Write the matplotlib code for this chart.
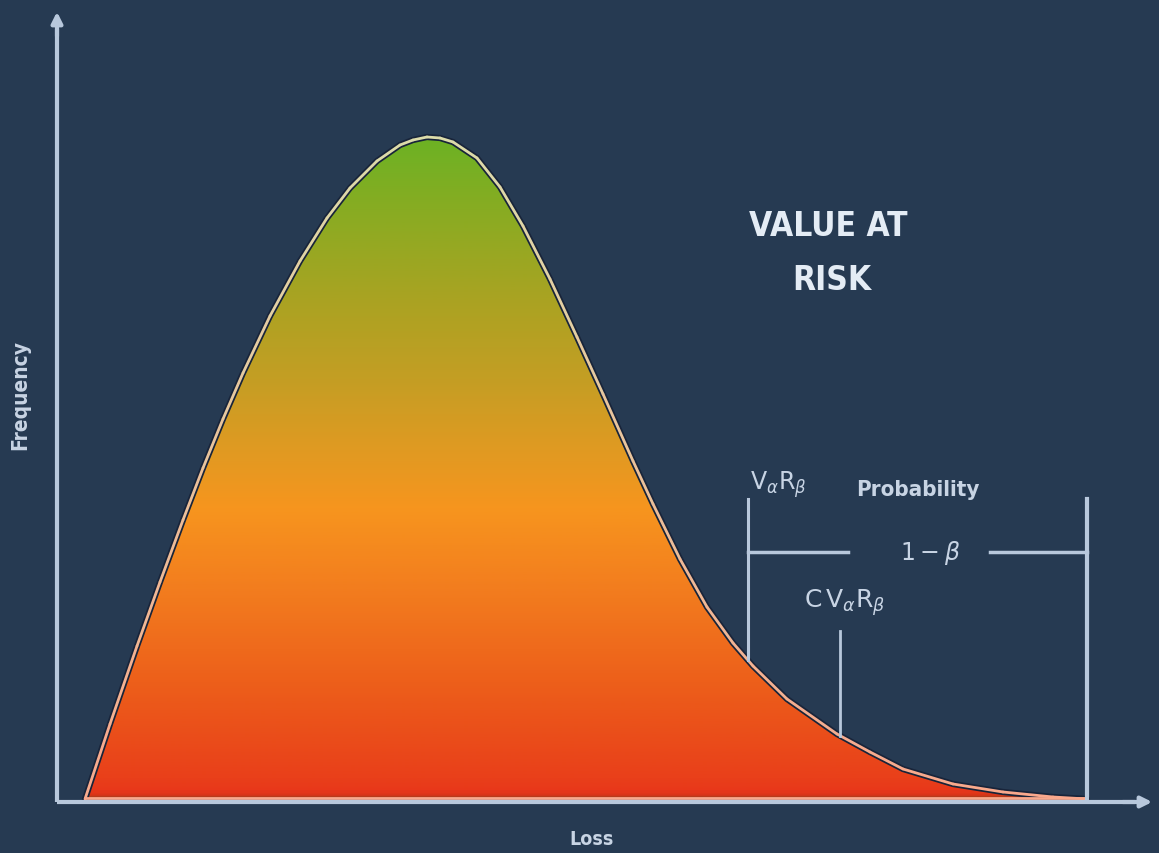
import numpy as np
import matplotlib
matplotlib.use("Agg")
import matplotlib.pyplot as plt
from matplotlib.colors import LinearSegmentedColormap, to_rgb
from matplotlib.patches import Polygon
from matplotlib.collections import LineCollection

# ---- data ----
loss = [85, 110, 137, 160, 183, 203, 223, 243, 270, 300, 327, 350, 377, 400, 413,
        427, 440, 453, 477, 500, 523, 550, 577, 603, 633, 653, 680, 707, 733, 753,
        787, 837, 870, 903, 953, 1003, 1053, 1087]
frequency = [0, 75, 153, 217, 279, 331, 380, 426, 483, 538, 581, 611, 638, 654, 659,
             662, 661, 657, 641, 612, 573, 520, 462, 405, 338, 295, 240, 192, 156, 133,
             100, 65, 47, 30, 15, 7, 2, 0]
var_x = 748
cvar_x = 840
tail_end_x = 1087

# gradient stops: (frequency level, colour)
grad_levels = [0, 3, 7, 20, 100, 200, 290, 350, 420, 500, 580, 662]
grad_colors = ["#b83a1a", "#e03418", "#e8381a", "#e9401a", "#ec5a1a", "#f27a1e",
               "#f7951e", "#e09a22", "#c49e24", "#aaa322", "#8cab22", "#6cb224"]

BG = "#263a52"
AXC = "#b8c8dc"
TXT = "#c8d4e4"

fig = plt.figure(figsize=(11.59, 8.54), dpi=100, facecolor=BG)
ax = fig.add_axes([0, 0, 1, 1])
ax.set_facecolor(BG)
ax.axis("off")

x = np.array(loss, float)
f = np.array(frequency, float)
fmax = f.max()

# gradient fill clipped to the curve
pos = [v / fmax for v in grad_levels]
cmap = LinearSegmentedColormap.from_list("g", list(zip(pos, grad_colors)))
grad = np.linspace(0, 1, 600).reshape(-1, 1)
im = ax.imshow(grad, cmap=cmap, origin="lower", aspect="auto",
               extent=[x.min(), x.max(), 0, fmax], zorder=2, interpolation="bilinear")
poly = Polygon(np.column_stack([x, f]), closed=True, transform=ax.transData,
               facecolor="none", edgecolor="none")
ax.add_patch(poly)
im.set_clip_path(poly)
ax.set_xlim(0, 1159)
ax.set_ylim(-54, 800)

# dark shadow outline + light edge
ax.plot(x, f, color="#18243a", lw=4.5, zorder=3, solid_capstyle="round",
        solid_joinstyle="round")
pts = np.column_stack([x, f]).reshape(-1, 1, 2)
segs = np.concatenate([pts[:-1], pts[1:]], axis=1)
top_c = np.array(to_rgb("#dcdcaa"))
bot_c = np.array(to_rgb("#f9a88c"))
mid_f = (f[:-1] + f[1:]) / 2 / fmax
cols = [tuple(bot_c + (top_c - bot_c) * t) for t in mid_f]
ax.add_collection(LineCollection(segs, colors=cols, linewidths=2.0, zorder=4,
                                 capstyle="round", joinstyle="round"))

# bottom strip
ax.plot([x.min(), x.max()], [1, 1], color="#f9a88c", lw=2, zorder=4)

# axes with arrows
ax.plot([57, 57], [-3, 770], color=AXC, lw=3, zorder=5, solid_capstyle="butt")
ax.plot([57, 1135], [-3, -3], color=AXC, lw=3, zorder=5, solid_capstyle="butt")
ax.annotate("", xy=(57, 790), xytext=(57, 760),
            arrowprops=dict(arrowstyle="-|>", color=AXC, lw=3, mutation_scale=16), zorder=6)
ax.annotate("", xy=(1155, -3), xytext=(1120, -3),
            arrowprops=dict(arrowstyle="-|>", color=AXC, lw=3, mutation_scale=16), zorder=6)

# VaR / CVaR / tail markers
var_f = np.interp(var_x, x, f)
cvar_f = np.interp(cvar_x, x, f)
ax.plot([var_x, var_x], [var_f, 300], color=AXC, lw=2.2, zorder=5)
ax.plot([cvar_x, cvar_x], [cvar_f, 168], color=AXC, lw=2.0, zorder=5)
ax.plot([tail_end_x, tail_end_x], [0, 300], color=AXC, lw=3, zorder=5)
ax.plot([var_x, 848], [247, 247], color=AXC, lw=2.5, zorder=5)
ax.plot([990, tail_end_x], [247, 247], color=AXC, lw=2.5, zorder=5)

# texts
cond = dict(family="DejaVu Sans", stretch="condensed", fontweight="bold")
ax.text(828, 800 - 226, "VALUE AT", color="#e4ecf5", fontsize=24, ha="center",
        va="center", **cond)
ax.text(832, 800 - 280, "RISK", color="#e4ecf5", fontsize=24, ha="center",
        va="center", **cond)
ax.text(918, 800 - 490, "Probability", color=TXT, fontsize=16, ha="center",
        va="center", **cond)
ax.text(930, 800 - 553, r"$1-\beta$", color=TXT, fontsize=17, ha="center", va="center")
ax.text(778, 800 - 485, r"$\mathrm{V}_{\alpha}\mathrm{R}_{\beta}$", color=TXT,
        fontsize=17, ha="center", va="center")
ax.text(845, 800 - 603, r"$\mathrm{C\,V}_{\alpha}\mathrm{R}_{\beta}$", color=TXT,
        fontsize=18, ha="center", va="center")
ax.text(20, 800 - 395, "Frequency", color=TXT, fontsize=15, rotation=90,
        ha="center", va="center", **cond)
ax.text(592, 800 - 840, "Loss", color=TXT, fontsize=14, ha="center", va="center", **cond)

fig.savefig("out.png", dpi=100, facecolor=BG)
